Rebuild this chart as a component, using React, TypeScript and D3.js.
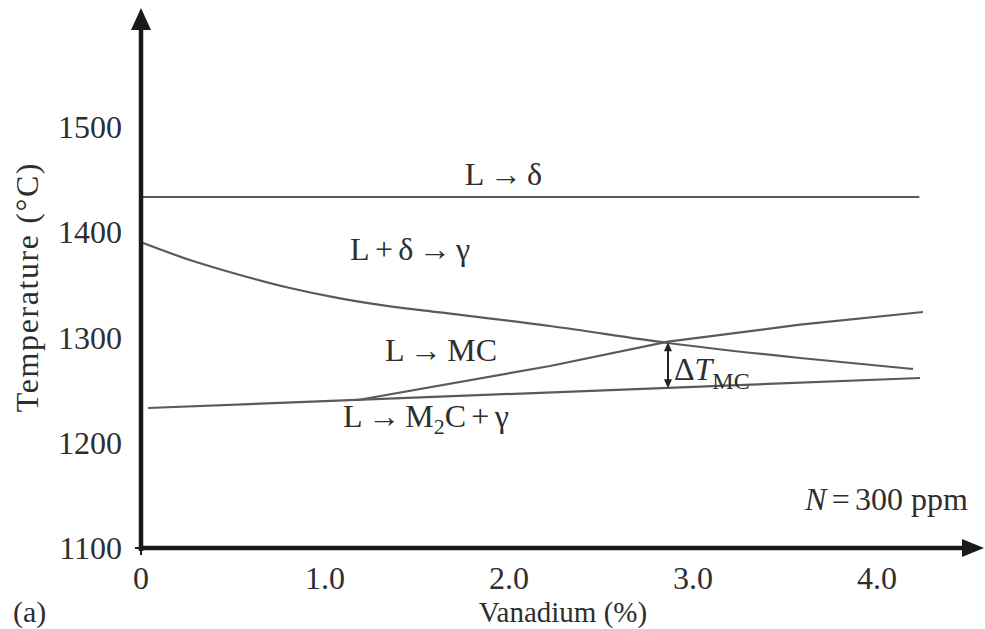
import React from "react";
import * as d3 from "d3";

// ---- data (Vanadium %, Temperature °C) ----
const deltaLineV = [0.01, 4.23];
const deltaLineT = [1433.5, 1433.5];

const gammaV = [0.011, 0.266, 0.538, 0.81, 1.082, 1.353, 1.625, 2.223, 2.864, 3.582, 4.196];
const gammaT = [1389.8, 1373.6, 1359.4, 1347.0, 1337.1, 1329.5, 1323.8, 1310.9, 1294.8, 1280.5, 1270.1];

const mcV = [1.179, 2.223, 2.864, 3.582, 4.25];
const mcT = [1240.6, 1272.9, 1296.0, 1312.2, 1324.2];

const m2cV = [0.038, 4.234];
const m2cT = [1233.0, 1261.5];

const deltaTV = 2.864;
const deltaTRange = [1251.8, 1295.5];

const xTicks = [0, 1, 2, 3, 4];
const xTickLabels = ["0", "1.0", "2.0", "3.0", "4.0"];
const yTicks = [1100, 1200, 1300, 1400, 1500];

const W = 985;
const H = 629;

export default function App() {
  const x = d3.scaleLinear().domain([0, 4]).range([141, 877]);
  const y = d3.scaleLinear().domain([1100, 1500]).range([548, 127]);

  const lin = d3
    .line<[number, number]>()
    .x((d) => x(d[0]))
    .y((d) => y(d[1]));
  const smooth = d3
    .line<[number, number]>()
    .x((d) => x(d[0]))
    .y((d) => y(d[1]))
    .curve(d3.curveMonotoneX);

  const zip = (a: number[], b: number[]) => a.map((v, i) => [v, b[i]] as [number, number]);

  const font = "'Liberation Serif', 'DejaVu Serif', serif";
  const txt = "#2e2e2e";
  const lineCol = "#5a5a5a";
  const fs = 32;
  const sp = "\u2006";

  const axX0 = x(0);
  const axY0 = y(1100);

  const arrowY = y(deltaTRange[1]);
  const arrowYb = y(deltaTRange[0]);
  const ax = x(deltaTV);

  return (
    <svg
      width={W}
      height={H}
      style={{ position: "absolute", left: 0, top: 0, background: "#fff" }}
      fontFamily={font}
    >
      <rect width={W} height={H} fill="#fff" />
      {/* curves */}
      <g fill="none" stroke={lineCol} strokeWidth={2.2}>
        <path d={lin(zip(deltaLineV, deltaLineT)) || ""} />
        <path d={smooth(zip(gammaV, gammaT)) || ""} />
        <path d={lin(zip(mcV, mcT)) || ""} />
        <path d={lin(zip(m2cV, m2cT)) || ""} />
      </g>

      {/* ΔT arrow */}
      <g stroke="#222" fill="#222">
        <line x1={ax} x2={ax} y1={arrowY + 6} y2={arrowYb - 6} strokeWidth={2} />
        <path d={`M${ax},${arrowY} L${ax - 4},${arrowY + 9} L${ax + 4},${arrowY + 9} Z`} stroke="none" />
        <path d={`M${ax},${arrowYb} L${ax - 4},${arrowYb - 9} L${ax + 4},${arrowYb - 9} Z`} stroke="none" />
      </g>

      {/* axes */}
      <g stroke="#1a1a1a" fill="#1a1a1a">
        <line x1={axX0} x2={axX0} y1={axY0 + 3} y2={24} strokeWidth={4.5} />
        <path d={`M${axX0},8 L${axX0 - 10},30 L${axX0 + 10},30 Z`} stroke="none" />
        <line x1={axX0 - 2} x2={966} y1={axY0} y2={axY0} strokeWidth={4.5} />
        <path d={`M984,${axY0} L962,${axY0 - 9} L962,${axY0 + 9} Z`} stroke="none" />
        <line x1={axX0 - 6} x2={axX0} y1={axY0} y2={axY0} strokeWidth={2} />
        <line x1={axX0} x2={axX0} y1={axY0} y2={axY0 + 7} strokeWidth={2} />
      </g>

      {/* tick labels */}
      <g fill={txt} fontSize={fs}>
        {yTicks.map((t) => (
          <text key={t} x={122} y={y(t)} textAnchor="end" dominantBaseline="central">
            {t}
          </text>
        ))}
        {xTicks.map((t, i) => (
          <text key={t} x={x(t)} y={589} textAnchor="middle">
            {xTickLabels[i]}
          </text>
        ))}
      </g>

      {/* axis titles */}
      <g fill={txt} fontSize={fs}>
        <text x={563} y={622} textAnchor="middle" fontSize={29}>
          Vanadium (%)
        </text>
        <text x={13} y={622} fontSize={30}>
          (a)
        </text>
        <text transform={`translate(38,287) rotate(-90)`} textAnchor="middle" letterSpacing={1.6}>
          Temperature (°C)
        </text>
      </g>

      {/* region labels */}
      <g fill={txt} fontSize={fs}>
        <text x={x(1.97)} y={y(1445)} textAnchor="middle">
          {`L${sp}→${sp}δ`}
        </text>
        <text x={x(1.136)} y={y(1374)}>{`L${sp}+${sp}δ${sp}→${sp}γ`}</text>
        <text x={x(1.326)} y={y(1278)}>{`L${sp}→${sp}MC`}</text>
        <text x={x(1.098)} y={y(1215)}>
          {`L${sp}→${sp}M`}
          <tspan fontSize={22} dy={7}>2</tspan>
          <tspan dy={-7}>{`C${sp}+${sp}γ`}</tspan>
        </text>
        <text x={ax + 6} y={y(1260)}>
          Δ<tspan fontStyle="italic">T</tspan>
          <tspan fontSize={24} dy={9}>MC</tspan>
        </text>
        <text x={968} y={510} textAnchor="end">
          <tspan fontStyle="italic">N</tspan>
          {`${sp}=${sp}300 ppm`}
        </text>
      </g>
    </svg>
  );
}
